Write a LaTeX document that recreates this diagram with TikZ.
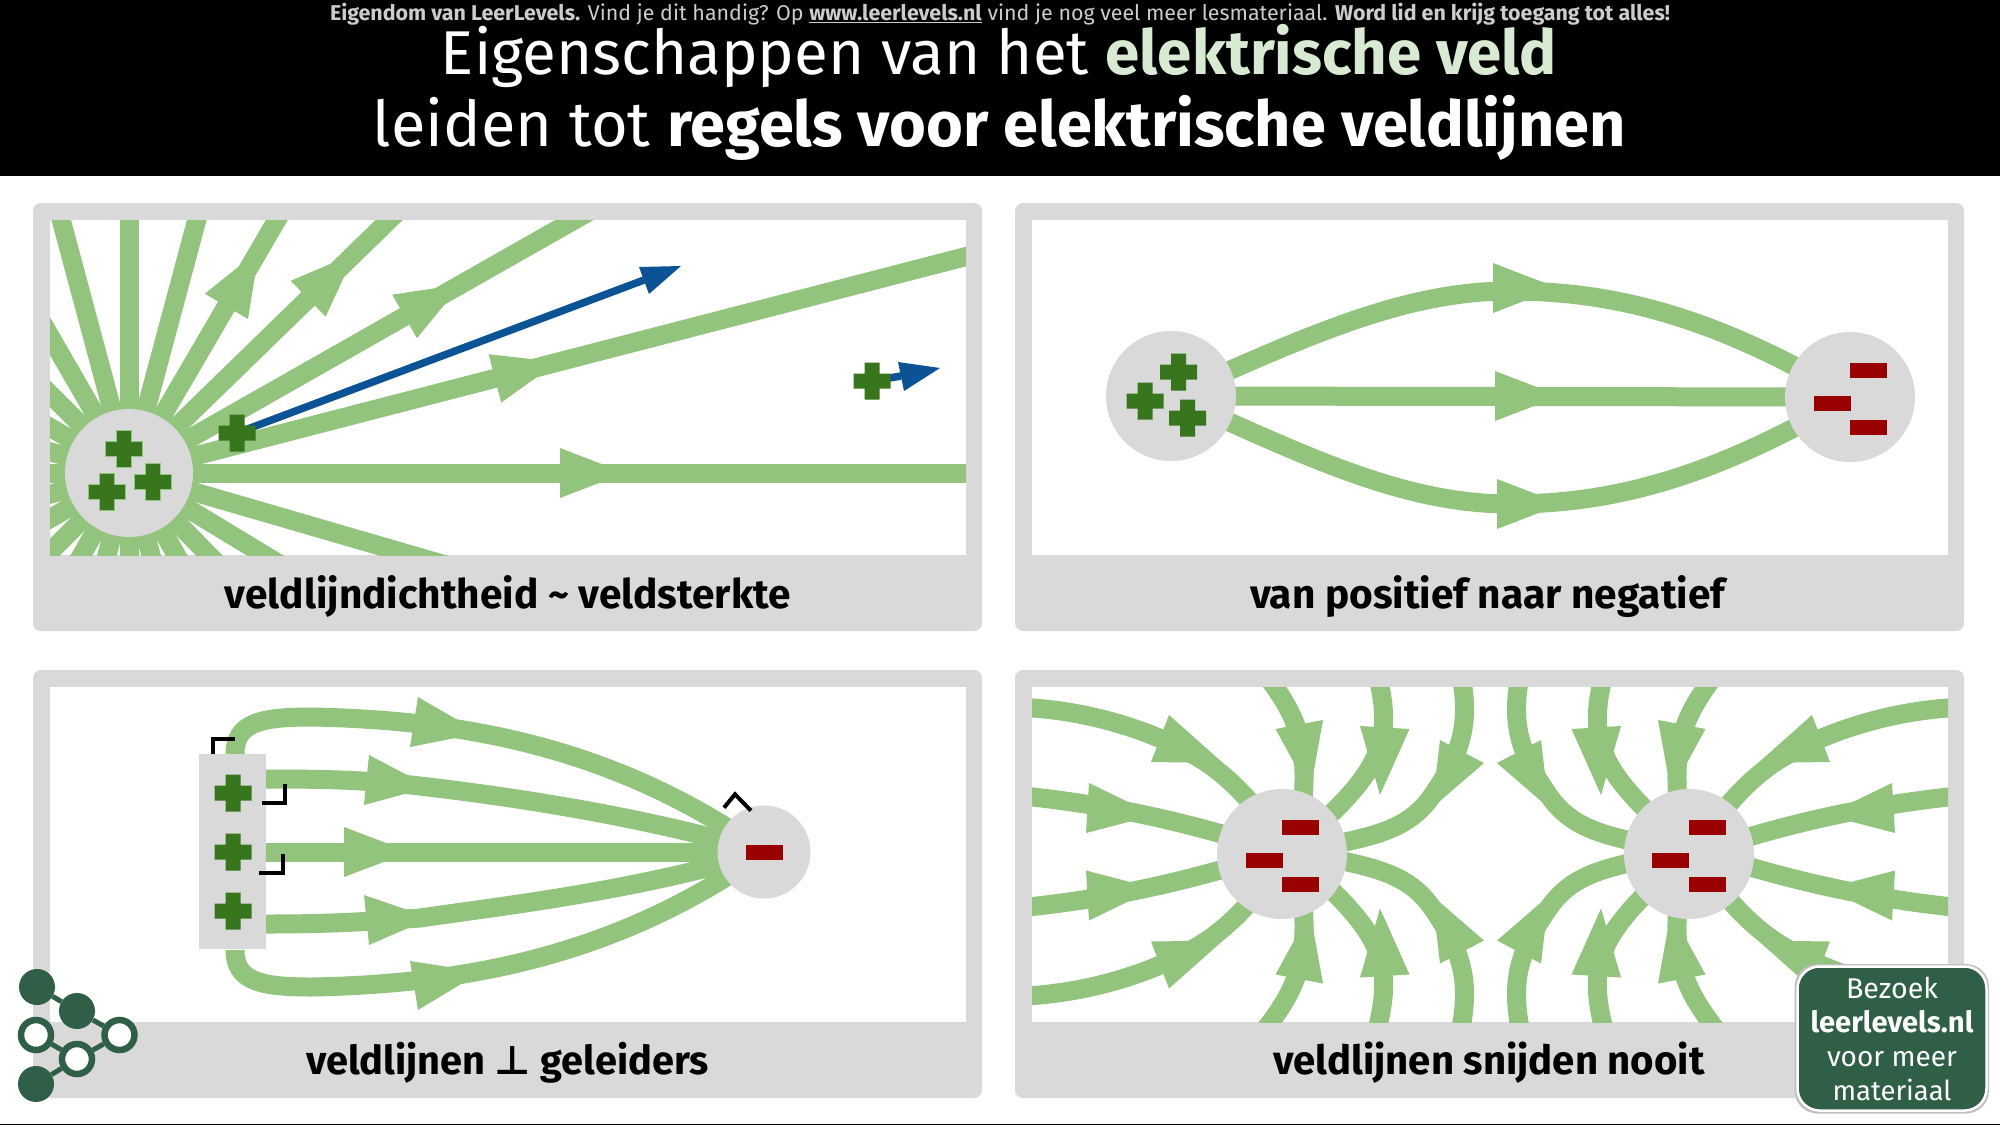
\documentclass[tikz,border=0pt]{standalone}
\usepackage{graphicx}
\usepackage{fontspec}
\setmainfont{Fira Sans}
\newfontfamily\symfont{DejaVu Sans}
\definecolor{fieldgreen}{HTML}{93C47D}
\definecolor{panelgrey}{HTML}{D9D9D9}
\definecolor{plusgreen}{HTML}{38761D}
\definecolor{minusred}{HTML}{990000}
\definecolor{testblue}{HTML}{0B5394}
\definecolor{logogreen}{HTML}{2F5F46}
\definecolor{titlegreen}{HTML}{D9EAD3}
\definecolor{noticegrey}{HTML}{CCCCCC}
\tikzset{
  x=1pt,y=-1pt,
  fieldline/.style={draw=fieldgreen,line width=19pt},
  fieldcurve/.style={fieldline,line join=round},
  fieldhead/.style={fill=fieldgreen},
  chargedisc/.style={circle,fill=panelgrey,inner sep=0pt,minimum size=130pt},
  paneltitle/.style={anchor=base,inner sep=0pt,text=black},
  plusshape/.style={fill=plusgreen},
  plusedge/.style={fill=plusgreen,draw=fieldgreen,line width=1.5pt},
  minusshape/.style={fill=minusred},
  testline/.style={draw=testblue,line width=7.5pt},
  testhead/.style={fill=testblue},
  perpmark/.style={draw=black,line width=4pt,line join=miter},
  logoline/.style={draw=logogreen,line width=5pt},
  logofull/.style={circle,fill=logogreen,inner sep=0pt,minimum size=36pt},
  logoring/.style={circle,fill=white,draw=logogreen,line width=6.5pt,inner sep=0pt,minimum size=30pt},
}
\newcommand\fitw[2]{\resizebox{#1pt}{!}{#2}}
\newcommand\plusmark[3][plusshape]{\path[#1,shift={(#2,#3)}] (-7.5,-18.5) -- (7.5,-18.5) -- (7.5,-7.5) -- (18.5,-7.5) -- (18.5,7.5) -- (7.5,7.5) -- (7.5,18.5) -- (-7.5,18.5) -- (-7.5,7.5) -- (-18.5,7.5) -- (-18.5,-7.5) -- (-7.5,-7.5) -- cycle;}
\newcommand\minusmark[2]{\fill[minusshape,shift={(#1,#2)}] (-18.5,-7.5) rectangle (18.5,7.5);}
\newcommand\radhead[2]{\fill[fieldhead,shift={(129,473)},rotate=#1] (#2,25) -- (#2+65,0) -- (#2,-25) -- cycle;}
\newcommand\panelbox[2]{%
  \fill[panelgrey,rounded corners=8pt] (#1,#2) rectangle (#1+949,#2+428);
  \fill[white] (#1+17,#2+17) rectangle (#1+933,#2+352);}
\newcommand\quadlines{%
  \draw[fieldcurve] (1015,707) .. controls (1110,710) and (1180,745) .. (1207,763) .. controls (1235,782) and (1262,812) .. (1285,850);
  \draw[fieldcurve] (1015,795) .. controls (1090,803) and (1170,815) .. (1290,855);
  \draw[fieldcurve] (1262,670) .. controls (1295,712) and (1308,740) .. (1303,800) -- (1300,850);
  \draw[fieldcurve] (1376,670) .. controls (1392,730) and (1385,760) .. (1335,810) -- (1285,855);
  \draw[fieldcurve] (1460,670) .. controls (1470,720) and (1465,750) .. (1429,800) .. controls (1405,830) and (1375,838) .. (1290,852);
  \fill[fieldhead] (1169,715) -- (1151,762) -- (1223,763) -- cycle;
  \fill[fieldhead] (1089,783) -- (1086,833) -- (1155,815) -- cycle;
  \fill[fieldhead] (1275.5,729) -- (1323,720) -- (1310,792) -- cycle;
  \fill[fieldhead] (1360,726) -- (1409.5,729) -- (1380,795) -- cycle;
  \fill[fieldhead] (1440,740) -- (1484,763) -- (1432,808) -- cycle;
}
\begin{document}
\begin{tikzpicture}
\useasboundingbox (0,0) rectangle (2000,1125);
\fill[white] (0,0) rectangle (2000,1125);
\fill[black] (0,1123.5) rectangle (2000,1125);
% header
\fill[black] (0,0) rectangle (2000,176);
\node[anchor=base,inner sep=0pt,text=noticegrey] (notice) at (1000,20) {\fitw{1340}{\fontsize{20}{24}\selectfont\textbf{Eigendom van LeerLevels.} Vind je dit handig? Op \underline{\textbf{www.leerlevels.nl}} vind je nog veel meer lesmateriaal. \textbf{Word lid en krijg toegang tot alles!}}};
\node[anchor=base,inner sep=0pt,text=white] (title1) at (999,74) {\fitw{1116}{\fontsize{60}{70}\selectfont Eigenschappen van het \textcolor{titlegreen}{\textbf{elektrische veld}}}};
\node[anchor=base,inner sep=0pt,text=white] (title2) at (999.5,146) {\fitw{1253}{\fontsize{60}{70}\selectfont leiden tot \textbf{regels voor elektrische veldlijnen}}};
% panel frames
\panelbox{33}{203}
\panelbox{1015}{203}
\panelbox{33}{670}
\panelbox{1015}{670}
% panel 1
\coordinate (p1c) at (129,473);
\begin{scope}
\clip (50,220) rectangle (966,555);
\foreach \a in {0,14.5,29.6,44.2,59.7,75,90,105,120,135,150,165,180,195,210,225,240,255,270,285,300,314.2,328.8,343.8}
  \draw[fieldline,shift={(p1c)},rotate=\a] (0,0) -- (1200,0);
\radhead{0}{431}
\radhead{14.5}{378}
\radhead{29.6}{317}
\radhead{44.2}{250}
\radhead{59.7}{193}
\end{scope}
\node[chargedisc,minimum size=128pt] (p1disc) at (p1c) {};
\plusmark[plusedge]{124}{449}
\plusmark[plusedge]{107}{492}
\plusmark[plusedge]{153}{482}
\coordinate (q1) at (237,433);
\coordinate (q1h) at (644,280);
\draw[testline] (q1) -- (q1h);
\fill[testhead] (639,267) -- (681,266) -- (649,294) -- cycle;
\plusmark{237}{433}
\coordinate (q2) at (872,381);
\coordinate (q2h) at (901,376);
\draw[testline] (q2) -- (q2h);
\fill[testhead] (898,362) -- (940,368) -- (904,391) -- cycle;
\plusmark{872}{381}
\node[paneltitle] (cap1) at (508,608) {\fitw{566}{\fontsize{38}{44}\selectfont\textbf{veldlijndichtheid \textasciitilde{} veldsterkte}}};
% panel 2
\coordinate (p2a) at (1171,396);
\coordinate (p2b) at (1850,397);
\draw[fieldline] (p2a) -- (p2b);
\draw[fieldcurve] (p2a) .. controls (1300,340) and (1400,291) .. (1510,291) .. controls (1620,291) and (1720,320) .. (p2b);
\draw[fieldcurve] (p2a) .. controls (1300,453) and (1400,504) .. (1510,504) .. controls (1620,504) and (1720,473) .. (p2b);
\fill[fieldhead] (1493,263) -- (1558,288) -- (1493,313) -- cycle;
\fill[fieldhead] (1495,371) -- (1560,396) -- (1495,421) -- cycle;
\fill[fieldhead] (1497,479) -- (1562,504) -- (1497,529) -- cycle;
\node[chargedisc] (p2pos) at (p2a) {};
\node[chargedisc] (p2neg) at (p2b) {};
\plusmark{1178.6}{372}
\plusmark{1145}{401}
\plusmark{1187.5}{418}
\minusmark{1868}{370}
\minusmark{1832}{403}
\minusmark{1868}{427}
\node[paneltitle] (cap2) at (1489,608) {\fitw{478}{\fontsize{38}{44}\selectfont\textbf{van positief naar negatief}}};
% panel 3
\coordinate (p3a) at (764,852);
\coordinate (p3t) at (235,754);
\coordinate (p3r1) at (266,779);
\coordinate (p3r2) at (266,852);
\coordinate (p3r3) at (266,924);
\coordinate (p3b) at (235,950);
\draw[fieldcurve] (p3t) .. controls (235,722) and (262,717) .. (312,717) .. controls (470,720) and (620,750) .. (p3a);
\draw[fieldcurve] (p3r1) .. controls (330,779) and (360,780) .. (411,785) .. controls (500,795) and (640,815) .. (p3a);
\draw[fieldline] (p3r2) -- (p3a);
\draw[fieldcurve] (p3r3) .. controls (330,924) and (360,922) .. (420,918) .. controls (510,905) and (640,890) .. (p3a);
\draw[fieldcurve] (p3b) .. controls (235,982) and (262,987) .. (312,987) .. controls (470,984) and (620,954) .. (p3a);
\fill[fieldhead] (418,697) -- (410,747) -- (480,733) -- cycle;
\fill[fieldhead] (369,755) -- (364,805) -- (430,787) -- cycle;
\fill[fieldhead] (344,827) -- (344,877) -- (410,852) -- cycle;
\fill[fieldhead] (364,895) -- (369,945) -- (431,918) -- cycle;
\fill[fieldhead] (410,961) -- (418,1010) -- (481,972) -- cycle;
\node[rectangle,fill=panelgrey,inner sep=0pt,minimum width=67pt,minimum height=195pt] (p3rect) at (232.5,851.5) {};
\node[chargedisc,minimum size=93pt] (p3neg) at (p3a) {};
\plusmark{233}{793}
\plusmark{233}{852}
\plusmark{233}{911}
\minusmark{764}{852}
\draw[perpmark] (212.7,754) -- (212.7,739.3) -- (235,739.3);
\draw[perpmark] (261.7,802.7) -- (285,802.7) -- (285,784.3);
\draw[perpmark] (259.3,872.7) -- (282.7,872.7) -- (282.7,854.3);
\draw[perpmark] (724,807.7) -- (735,794.3) -- (751,810.7);
\node[paneltitle] (cap3) at (507.5,1074) {\fitw{403}{\fontsize{38}{44}\selectfont\textbf{veldlijnen {\symfont ⊥} geleiders}}};
% panel 4
\begin{scope}
\clip (1032,687) rectangle (1948,1022);
\quadlines
\begin{scope}[shift={(2981,0)},xscale=-1]\quadlines\end{scope}
\begin{scope}[shift={(0,1703.5)},yscale=-1]\quadlines\end{scope}
\begin{scope}[shift={(2981,1703.5)},xscale=-1,yscale=-1]\quadlines\end{scope}
\end{scope}
\node[chargedisc] (p4l) at (1282,854) {};
\node[chargedisc] (p4r) at (1689,854) {};
\minusmark{1300}{827}
\minusmark{1264}{860}
\minusmark{1300}{884}
\minusmark{1707}{827}
\minusmark{1670}{860}
\minusmark{1707}{884}
\node[paneltitle] (cap4) at (1489,1074) {\fitw{432}{\fontsize{38}{44}\selectfont\textbf{veldlijnen snijden nooit}}};
% logo
\node[logofull] (l1) at (37,987) {};
\node[logofull] (l2) at (77,1011) {};
\node[logoring] (l3) at (36,1035) {};
\node[logoring] (l4) at (119.5,1035) {};
\node[logoring] (l5) at (77,1059) {};
\node[logofull] (l6) at (36,1084) {};
\draw[logoline] (l1) -- (l2);
\draw[logoline] (l2) -- (l4);
\draw[logoline] (l3) -- (l5);
\draw[logoline] (l5) -- (l4);
\draw[logoline] (l5) -- (l6);
% badge
\fill[black!25,rounded corners=23pt] (1794.5,964) rectangle (1989,1113.5);
\node[rectangle,rounded corners=22pt,fill=logogreen,draw=white,line width=2.5pt,inner sep=0pt,minimum width=189pt,minimum height=144pt] (badge) at (1892,1038.5) {};
\node[anchor=base,inner sep=0pt,text=white] (b1) at (1892,998) {\fitw{92}{\fontsize{28}{32}\selectfont Bezoek}};
\node[anchor=base,inner sep=0pt,text=white] (b2) at (1892,1032) {\fitw{163}{\fontsize{28}{32}\selectfont\textbf{leerlevels.nl}}};
\node[anchor=base,inner sep=0pt,text=white] (b3) at (1892,1066) {\fitw{130}{\fontsize{28}{32}\selectfont voor meer}};
\node[anchor=base,inner sep=0pt,text=white] (b4) at (1892,1100) {\fitw{119}{\fontsize{28}{32}\selectfont materiaal}};
\end{tikzpicture}
\end{document}
